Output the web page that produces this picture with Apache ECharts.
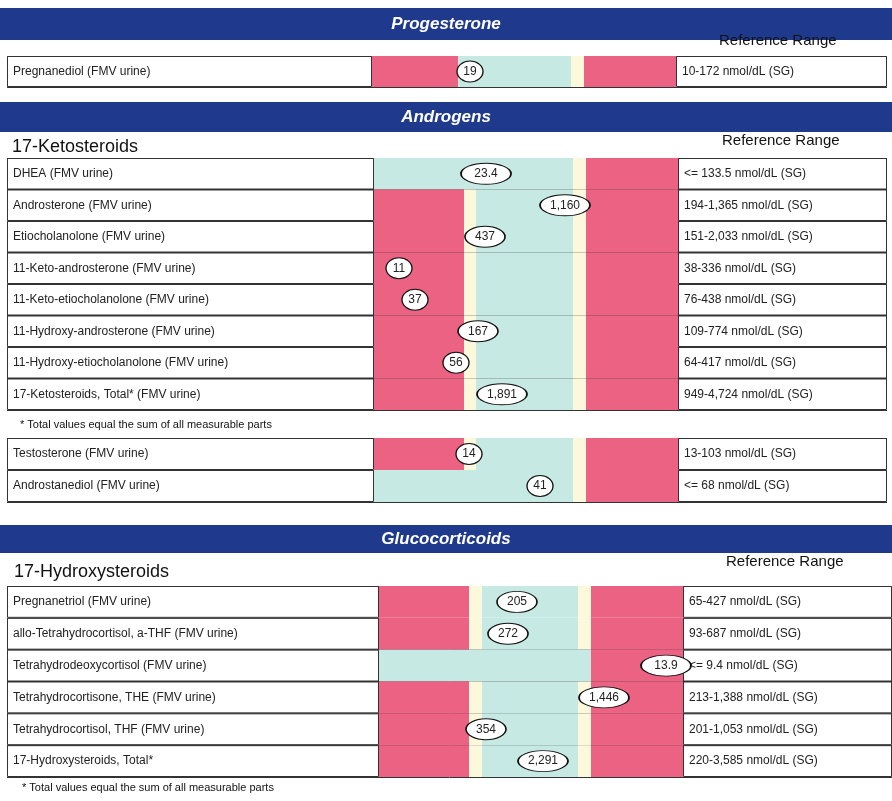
<!DOCTYPE html>
<html>
<head>
<meta charset="utf-8">
<script src="https://cdn.jsdelivr.net/npm/echarts@6/dist/echarts.min.js"></script>
<style>html,body{margin:0;padding:0;background:#fff}#main{width:892px;height:801px}</style>
</head>
<body>
<div id="main"></div>
<script>
// rows per table block
const progNames = ['Pregnanediol (FMV urine)']
const progRanges = ['10-172 nmol/dL (SG)']
const progValues = ['19']
const progPos = [463]

const ketoNames = ['DHEA (FMV urine)', 'Androsterone (FMV urine)', 'Etiocholanolone (FMV urine)',
  '11-Keto-androsterone (FMV urine)', '11-Keto-etiocholanolone (FMV urine)', '11-Hydroxy-androsterone (FMV urine)',
  '11-Hydroxy-etiocholanolone (FMV urine)', '17-Ketosteroids, Total* (FMV urine)']
const ketoRanges = ['<= 133.5 nmol/dL (SG)', '194-1,365 nmol/dL (SG)', '151-2,033 nmol/dL (SG)', '38-336 nmol/dL (SG)',
  '76-438 nmol/dL (SG)', '109-774 nmol/dL (SG)', '64-417 nmol/dL (SG)', '949-4,724 nmol/dL (SG)']
const ketoValues = ['23.4', '1,160', '437', '11', '37', '167', '56', '1,891']
const ketoPos = [479, 558, 478, 392, 408, 471, 449, 495]
const ketoLow = [false, true, true, true, true, true, true, true]

const andrNames = ['Testosterone (FMV urine)', 'Androstanediol (FMV urine)']
const andrRanges = ['13-103 nmol/dL (SG)', '<= 68 nmol/dL (SG)']
const andrValues = ['14', '41']
const andrPos = [462, 533]
const andrLow = [true, false]

const hydrNames = ['Pregnanetriol (FMV urine)', 'allo-Tetrahydrocortisol, a-THF (FMV urine)', 'Tetrahydrodeoxycortisol (FMV urine)',
  'Tetrahydrocortisone, THE (FMV urine)', 'Tetrahydrocortisol, THF (FMV urine)', '17-Hydroxysteroids, Total*']
const hydrRanges = ['65-427 nmol/dL (SG)', '93-687 nmol/dL (SG)', '<= 9.4 nmol/dL (SG)', '213-1,388 nmol/dL (SG)',
  '201-1,053 nmol/dL (SG)', '220-3,585 nmol/dL (SG)']
const hydrValues = ['205', '272', '13.9', '1,446', '354', '2,291']
const hydrPos = [510, 501, 659, 597, 479, 536]
const hydrLow = [true, true, false, true, true, true]
const hydrMidYellow = [true, true, false, true, true, true]

const RED = '#ec6283', YEL = '#fbf8dc', GRN = '#c6eae3'

var chart = echarts.init(document.getElementById('main'))

function markerWidth(v) {
  return v.length > 3 ? 50 : (v.length > 2 ? 40 : 26)
}

// zone edges in x units (table coords starting at left 7)
function blockSeries(gi, names, ranges, values, pos, edges, low, midYel) {
  const [g0, r1, y1, gr1, y2, g1, end] = edges
  function seg(getter, label, border) {
    return {
      type: 'bar', stack: 's' + gi, xAxisIndex: gi, yAxisIndex: gi, barWidth: '100%',
      silent: true, animation: false, z: 2,
      data: names.map((nm, i) => {
        const v = getter(i)
        return { value: v[0], itemStyle: { color: v[1] } }
      }),
      itemStyle: border ? { borderColor: '#333', borderWidth: 1 } : {},
      label: label ? { show: true, position: 'insideLeft', distance: 6, fontSize: 12, color: '#222',
        fontFamily: 'Liberation Sans', formatter: p => label[p.dataIndex] } : { show: false }
    }
  }
  const s = []
  s.push(seg(i => [g0, '#fff'], names, true))
  s.push(seg(i => [r1 - g0, low[i] ? RED : GRN]))
  s.push(seg(i => [y1 - r1, low[i] ? YEL : GRN]))
  s.push(seg(i => [gr1 - y1, GRN]))
  s.push(seg(i => [y2 - gr1, midYel[i] ? YEL : GRN]))
  s.push(seg(i => [g1 - y2, RED]))
  s.push(seg(i => [end - g1, '#fff'], ranges, true))
  s.push({
    type: 'scatter', xAxisIndex: gi, yAxisIndex: gi, animation: false, z: 10, silent: true,
    symbol: 'circle',
    data: pos.map((p, i) => ({ value: [p, names[i]], symbolSize: [markerWidth(values[i]), 21] })),
    itemStyle: { color: '#fff', opacity: 1, borderColor: '#111', borderWidth: 1.2 },
    label: { show: true, position: 'inside', color: '#222', fontSize: 12, fontFamily: 'Liberation Sans',
      formatter: p => values[p.dataIndex] }
  })
  return s
}

const blocks = [
  { top: 56, h: 31, names: progNames, edges: [365, 451, 451, 564, 577, 669, 880] },
  { top: 158, h: 252, names: ketoNames, edges: [367, 457, 469, 566, 579, 671, 880] },
  { top: 438, h: 64, names: andrNames, edges: [367, 457, 469, 566, 579, 671, 880] },
  { top: 586, h: 191, names: hydrNames, edges: [372, 462, 475, 571, 584, 676, 885] }
]

const grids = [], xs = [], ys = []
blocks.forEach((b, i) => {
  grids.push({ left: 7, top: b.top, width: b.edges[6], height: b.h })
  xs.push({ gridIndex: i, type: 'value', min: 0, max: b.edges[6], show: true,
    axisLabel: { show: false }, axisTick: { show: false }, splitLine: { show: false },
    axisLine: { show: false } })
  ys.push({ gridIndex: i, type: 'category', data: b.names, inverse: true,
    axisLabel: { show: false }, axisTick: { show: false },
    axisLine: { show: false },
    splitLine: { show: true, interval: 0, lineStyle: { color: '#333', width: 1 } } })
})

let series = []
series = series.concat(blockSeries(0, progNames, progRanges, progValues, progPos, blocks[0].edges, [true], [true]))
series = series.concat(blockSeries(1, ketoNames, ketoRanges, ketoValues, ketoPos, blocks[1].edges, ketoLow, ketoNames.map(() => true)))
series = series.concat(blockSeries(2, andrNames, andrRanges, andrValues, andrPos, blocks[2].edges, andrLow, [true, true]))
series = series.concat(blockSeries(3, hydrNames, hydrRanges, hydrValues, hydrPos, blocks[3].edges, hydrLow, hydrMidYellow))

function header(y, h, text) {
  return [
    { type: 'rect', shape: { x: 0, y: y, width: 892, height: h }, style: { fill: '#1f3a8c' } },
    { type: 'text', x: 446, y: y + h / 2, style: { text: text, fill: '#fff', font: 'italic bold 17px Liberation Sans',
      align: 'center', verticalAlign: 'middle' } }
  ]
}
function txt(x, y, t, font) {
  return { type: 'text', x: x, y: y, style: { text: t, fill: '#111', font: font, verticalAlign: 'middle' } }
}

const graphic = [].concat(
  header(8, 32, 'Progesterone'),
  header(102, 30, 'Androgens'),
  header(525, 28, 'Glucocorticoids'),
  [
    txt(719, 41, 'Reference Range', '15px Liberation Sans'),
    txt(722, 141, 'Reference Range', '15px Liberation Sans'),
    txt(726, 562, 'Reference Range', '15px Liberation Sans'),
    txt(12, 147, '17-Ketosteroids', '18px Liberation Sans'),
    txt(14, 572, '17-Hydroxysteroids', '18px Liberation Sans'),
    txt(20, 425, '* Total values equal the sum of all measurable parts', '11px Liberation Sans'),
    txt(22, 788, '* Total values equal the sum of all measurable parts', '11px Liberation Sans')
  ]
)

chart.setOption({
  animation: false,
  grid: grids, xAxis: xs, yAxis: ys,
  series: series,
  graphic: graphic
})
</script>
</body>
</html>
